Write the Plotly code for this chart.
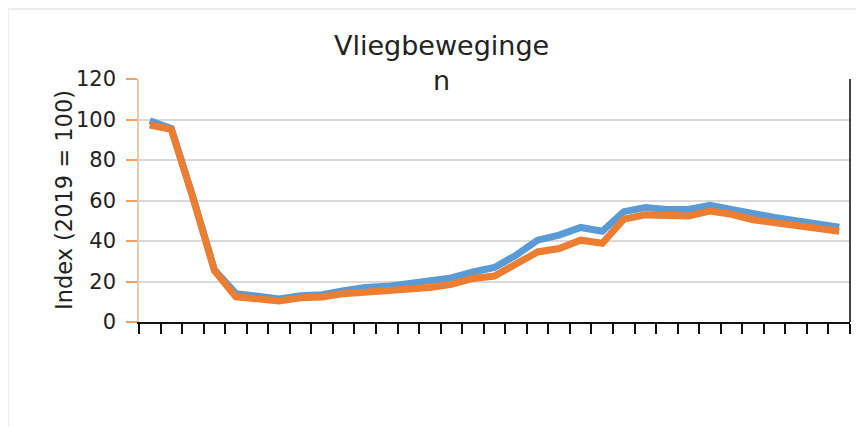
import plotly.graph_objects as go

categories = ["2020-01","2020-02","2020-03","2020-04","2020-05","2020-06","2020-07","2020-08",
              "2020-09","2020-10","2020-11","2020-12","2021-01","2021-02","2021-03","2021-04",
              "2021-05","2021-06","2021-07","2021-08","2021-09","2021-10","2021-11","2021-12",
              "2022-01","2022-02","2022-03","2022-04","2022-05","2022-06","2022-07","2022-08",
              "2022-09"]

blue_values = [99.4, 95.6, 61.8, 25.8, 14.0, 12.4, 11.4, 13.0, 13.5, 15.5, 17.0,
               17.6, 19.0, 19.8, 21.8, 24.7, 26.9, 33.0, 40.4, 42.9, 46.7, 44.8,
               54.5, 56.5, 55.6, 55.6, 57.6, 55.6, 53.2, 51.6, 50.0, 48.4, 46.8]
orange_values = [97.3, 95.1, 61.5, 25.4, 12.4, 11.2, 10.4, 12.0, 12.4, 14.0, 14.8,
                 14.8, 15.7, 17.0, 18.6, 21.5, 22.7, 28.9, 34.6, 36.3, 40.4, 38.9,
                 50.8, 52.9, 52.4, 52.4, 54.8, 53.2, 50.5, 49.2, 47.6, 46.3, 44.8]

y_ticks = [0, 20, 40, 60, 80, 100, 120]

title_text = "Vliegbeweginge<br>n"
y_title = "Index (2019 = 100)"

fig = go.Figure()
fig.add_trace(go.Scatter(x=categories, y=blue_values, mode="lines",
                         line=dict(color="#5B9BD5", width=7), showlegend=False))
fig.add_trace(go.Scatter(x=categories, y=orange_values, mode="lines",
                         line=dict(color="#ED7D31", width=7), showlegend=False))

# page has an 8px body margin; figure is placed at (8, 8)
OFF = 8
W, H = 864 - OFF, 427 - OFF
L, R, T, B = 139 - OFF, 14, 79 - OFF, 105
pw = W - L - R
ph = H - T - B

def px_x(x):
    return (x - OFF - L) / pw

def px_y(y):
    return (H - B - (y - OFF)) / ph

fig.update_layout(
    width=W, height=H,
    margin=dict(l=L, r=R, t=T, b=B),
    paper_bgcolor="white", plot_bgcolor="white",
    font=dict(family="DejaVu Sans", color="#222222"),
    xaxis=dict(type="category", tickson="boundaries", ticks="outside", ticklen=10,
               tickwidth=2, tickcolor="#111111", showticklabels=False, showgrid=False,
               showline=True, linecolor="#111111", linewidth=2, zeroline=False,
               range=[-0.5, len(categories) - 0.5]),
    yaxis=dict(range=[0, 120], tickvals=y_ticks, ticks="outside", ticklen=11,
               tickcolor="#F0A060", tickwidth=1.5, showline=True, linecolor="#E6C9A8",
               linewidth=1.5, gridcolor="#D9D9D9", gridwidth=1.5, zeroline=False,
               ticklabelstandoff=6,
               tickfont=dict(size=21, family="DejaVu Sans", color="#222222")),
    annotations=[
        dict(text=title_text, xref="paper", yref="paper", x=px_x(441), y=px_y(28),
             xanchor="center", yanchor="top", showarrow=False,
             font=dict(size=27, family="DejaVu Sans", color="#222222")),
        dict(text=y_title, xref="paper", yref="paper", x=px_x(64), y=px_y(200),
             xanchor="center", yanchor="middle", textangle=-90, showarrow=False,
             font=dict(size=22.5, family="DejaVu Sans", color="#222222")),
    ],
    shapes=[
        dict(type="line", xref="paper", yref="paper", x0=1, x1=1, y0=0, y1=1,
             line=dict(color="#444444", width=2)),
        dict(type="line", xref="paper", yref="paper", x0=px_x(8), x1=px_x(864),
             y0=px_y(9), y1=px_y(9), line=dict(color="#E6E6E6", width=1.5)),
        dict(type="line", xref="paper", yref="paper", x0=px_x(8), x1=px_x(8),
             y0=px_y(9), y1=px_y(427), line=dict(color="#E6E6E6", width=1.5)),
    ],
)

fig.write_html("out.html")
